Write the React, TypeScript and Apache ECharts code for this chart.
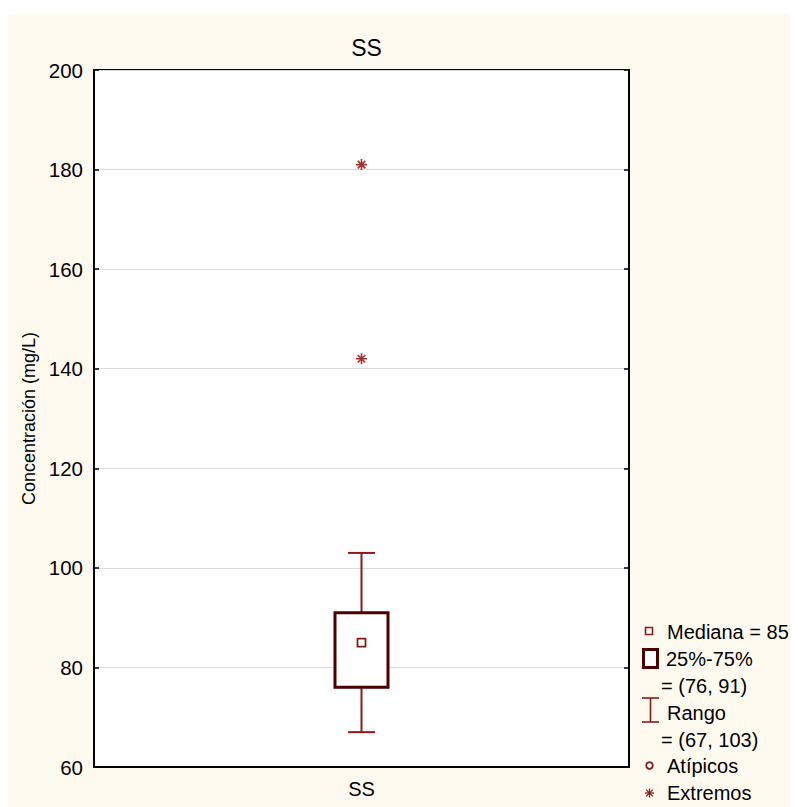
import React, { useEffect, useRef } from "react";
import * as echarts from "echarts";

const categories = ["SS"];
// [low, q1, median, q3, high]
const boxStats = [[67, 76, 85, 91, 103]];
const extremes = [181, 142];
const yTicks = { min: 60, max: 200, interval: 20 };
const legendLines = [
  "Mediana = 85",
  "25%-75%",
  "= (76, 91)",
  "Rango",
  "= (67, 103)",
  "Atípicos",
  "Extremos",
];

const FONT = "'Liberation Sans', Arial, Helvetica, sans-serif";
const BOX_EDGE = "#4a0000";
const RED = "#8b1a1a";

export default function App() {
  const ref = useRef<HTMLDivElement>(null);
  useEffect(() => {
    if (!ref.current) return;
    const chart = echarts.init(ref.current, undefined, { renderer: "svg" });
    const ox = 8, oy = 14;
    const P = (x: number, y: number) => [x - ox, y - oy];
    const legendIcons: any[] = [];
    {
      const [x, y] = P(645.5, 627.5);
      legendIcons.push({ type: "rect", shape: { x, y, width: 7, height: 7 }, style: { fill: "#fff", stroke: RED, lineWidth: 1.6 } });
    }
    {
      const [x, y] = P(643.5, 649.5);
      legendIcons.push({ type: "rect", shape: { x, y, width: 14, height: 18 }, style: { fill: "#fff", stroke: BOX_EDGE, lineWidth: 3 } });
    }
    {
      const [x1, y1] = P(642, 698);
      const [x2, y2] = P(659, 722);
      const cx = (x1 + x2) / 2;
      legendIcons.push({ type: "line", shape: { x1, y1, x2, y2: y1 }, style: { stroke: RED, lineWidth: 1.6 } });
      legendIcons.push({ type: "line", shape: { x1, y1: y2, x2, y2 }, style: { stroke: RED, lineWidth: 1.6 } });
      legendIcons.push({ type: "line", shape: { x1: cx, y1, x2: cx, y2 }, style: { stroke: RED, lineWidth: 1.6 } });
    }
    {
      const [cx, cy] = P(649.5, 765.5);
      legendIcons.push({ type: "circle", shape: { cx, cy, r: 3.3 }, style: { fill: "#fff", stroke: RED, lineWidth: 1.8 } });
    }
    {
      const [cx, cy] = P(649.5, 793);
      const r = 4.5;
      const segs = [
        [0, -r, 0, r],
        [-r, 0, r, 0],
        [-r * 0.75, -r * 0.75, r * 0.75, r * 0.75],
        [-r * 0.75, r * 0.75, r * 0.75, -r * 0.75],
      ];
      segs.forEach((s) =>
        legendIcons.push({ type: "line", shape: { x1: cx + s[0], y1: cy + s[1], x2: cx + s[2], y2: cy + s[3] }, style: { stroke: RED, lineWidth: 1.3 } })
      );
    }
    const textPos: [number, number][] = [
      [667, 632], [666, 659], [661, 686], [667, 713], [661, 740], [667, 766], [667, 793],
    ];
    const legendTexts = legendLines.map((t, i) => {
      const [x, y] = P(textPos[i][0], textPos[i][1]);
      return {
        type: "text",
        x,
        y,
        style: { text: t, fill: "#000", font: `20px ${FONT}`, verticalAlign: "middle" },
      };
    });

    const boxData = boxStats.map((s, i) => [i, ...s]);

    chart.setOption({
      animation: false,
      backgroundColor: "#FFFAF0",
      textStyle: { fontFamily: FONT },
      title: {
        text: "SS",
        left: 353.5,
        top: 17,
        textAlign: "center",
        textStyle: { fontSize: 23, fontWeight: "normal", color: "#000", fontFamily: FONT },
      },
      grid: {
        left: 86,
        top: 56,
        right: 169,
        bottom: 40,
        show: true,
        backgroundColor: "#fff",
        borderColor: "#000",
        borderWidth: 2,
      },
      xAxis: {
        type: "category",
        data: categories,
        axisLine: { show: true, lineStyle: { color: "#000", width: 2 } },
        axisTick: { show: false },
        axisLabel: { fontSize: 20, color: "#000", margin: 12, fontFamily: FONT },
        splitLine: { show: false },
      },
      yAxis: [
        {
          type: "value",
          min: yTicks.min,
          max: yTicks.max,
          interval: yTicks.interval,
          name: "Concentración (mg/L)",
          nameLocation: "middle",
          nameRotate: 90,
          nameGap: 55,
          nameTextStyle: { fontSize: 18, color: "#000", fontFamily: FONT },
          axisLine: { show: true, lineStyle: { color: "#000", width: 2 } },
          axisTick: { show: true, inside: true, length: 5, lineStyle: { color: "#000", width: 1.5 } },
          axisLabel: { fontSize: 20.5, color: "#000", margin: 11, fontFamily: FONT },
          splitLine: { show: true, lineStyle: { color: "#dcdcdc", width: 1 } },
        },
        {
          type: "value",
          position: "right",
          min: yTicks.min,
          max: yTicks.max,
          interval: yTicks.interval,
          axisLine: { show: true, lineStyle: { color: "#000", width: 2 } },
          axisTick: { show: true, inside: true, length: 5, lineStyle: { color: "#000", width: 1.5 } },
          axisLabel: { show: false },
          splitLine: { show: false },
        },
      ],
      series: [
        {
          type: "custom",
          yAxisIndex: 0,
          data: boxData,
          renderItem: (params: any, api: any) => {
            const xi = api.value(0);
            const low = api.coord([xi, api.value(1)]);
            const q1 = api.coord([xi, api.value(2)]);
            const med = api.coord([xi, api.value(3)]);
            const q3 = api.coord([xi, api.value(4)]);
            const high = api.coord([xi, api.value(5)]);
            const cx = low[0];
            const bw = 53;
            const cw = 27;
            const wStyle = { stroke: RED, lineWidth: 2 };
            return {
              type: "group",
              children: [
                { type: "line", shape: { x1: cx, y1: high[1], x2: cx, y2: q3[1] }, style: wStyle },
                { type: "line", shape: { x1: cx, y1: q1[1], x2: cx, y2: low[1] }, style: wStyle },
                { type: "line", shape: { x1: cx - cw / 2, y1: high[1], x2: cx + cw / 2, y2: high[1] }, style: wStyle },
                { type: "line", shape: { x1: cx - cw / 2, y1: low[1], x2: cx + cw / 2, y2: low[1] }, style: wStyle },
                {
                  type: "rect",
                  shape: { x: cx - bw / 2, y: q3[1], width: bw, height: q1[1] - q3[1] },
                  style: { fill: "#fff", stroke: BOX_EDGE, lineWidth: 3 },
                },
                {
                  type: "rect",
                  shape: { x: cx - 4, y: med[1] - 4, width: 8, height: 8 },
                  style: { fill: "#fff", stroke: RED, lineWidth: 1.8 },
                },
              ],
            };
          },
        },
        {
          type: "scatter",
          yAxisIndex: 0,
          data: extremes.map((v) => [categories[0], v]),
          symbol: "path://M5,0L5,10M0,5L10,5M1.6,1.6L8.4,8.4M1.6,8.4L8.4,1.6",
          symbolSize: 11,
          itemStyle: { color: "rgba(0,0,0,0)", borderColor: "#8b0000", borderWidth: 1.6 },
        },
      ],
      graphic: [...legendIcons, ...legendTexts],
    });
    return () => chart.dispose();
  }, []);
  return (
    <div style={{ paddingTop: 6 }}>
      <div ref={ref} style={{ width: 790, height: 793 }} />
    </div>
  );
}
